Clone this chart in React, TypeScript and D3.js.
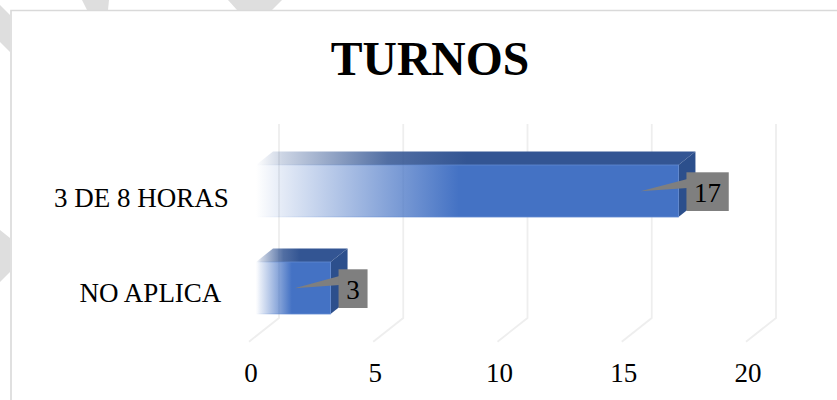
import React from "react";
import * as d3 from "d3";

const categories = ["3 DE 8 HORAS", "NO APLICA"];
const values = [17, 3];
const axisTicks = [0, 5, 10, 15, 20];
const chartTitle = "TURNOS";

const W = 837;
const H = 400;
const FONT = "'Liberation Serif', 'Times New Roman', serif";
const LABEL_SIZE = 27;

const x = d3.scaleLinear().domain([0, 20]).range([249, 746]);
const y = d3.scalePoint<string>().domain(categories).range([191, 288]);

// 3D projection of the plot box
const DX = 30;
const WALL_TOP = 124;
const WALL_BOTTOM = 318;
const FLOOR_FRONT = 341.7;
const BAR_INSET = 7;
const BAR_H = 52;
const BAR_DX = 17;
const BAR_DY = 13.5;

const categoryLabelCenter: Record<string, number> = { "3 DE 8 HORAS": 141.5, "NO APLICA": 150.5 };
const categoryLabelDy: Record<string, number> = { "3 DE 8 HORAS": 15.5, "NO APLICA": 14 };

const watermark = [
  "0,5 10,15 10,52 0,42",
  "0,230 10,238 10,272 0,282",
  "82,0 109,0 108,10 87,10",
  "228,0 282,0 272,10 237,10",
];

const pts = (a: [number, number][]) => a.map((p) => p.join(",")).join(" ");

function Stops({ color }: { color: string }) {
  return (
    <>
      <stop offset="0" stopColor={color} stopOpacity={0} />
      <stop offset="0.06" stopColor={color} stopOpacity={0.14} />
      <stop offset="0.48" stopColor={color} stopOpacity={1} />
      <stop offset="1" stopColor={color} stopOpacity={1} />
    </>
  );
}

export default function App() {
  return (
    <svg
      width={W}
      height={H}
      viewBox={`0 0 ${W} ${H}`}
      style={{ position: "absolute", left: 0, top: 0, display: "block", background: "#fff" }}
    >
      <defs>
        <linearGradient id="front"><Stops color="#4472c4" /></linearGradient>
        <linearGradient id="frontEdge"><Stops color="#5f88d0" /></linearGradient>
        <linearGradient id="top">
          <stop offset="0" stopColor="#335593" stopOpacity={0} />
          <stop offset="0.06" stopColor="#335593" stopOpacity={0.25} />
          <stop offset="0.3" stopColor="#335593" stopOpacity={0.85} />
          <stop offset="0.48" stopColor="#335593" stopOpacity={1} />
          <stop offset="1" stopColor="#335593" stopOpacity={1} />
        </linearGradient>
      </defs>

      {watermark.map((p, i) => (
        <polygon key={i} points={p} fill="#dedede" />
      ))}
      <path d="M11,400 V10.5 H837" fill="none" stroke="#d9d9d9" strokeWidth={1.6} />

      {axisTicks.map((t) => (
        <polyline
          key={t}
          points={pts([
            [x(t) + DX, WALL_TOP],
            [x(t) + DX, WALL_BOTTOM],
            [x(t), FLOOR_FRONT],
          ])}
          fill="none"
          stroke="#eeeeee"
          strokeWidth={1.8}
        />
      ))}

      {categories.map((c, i) => {
        const x0 = x(0) + BAR_INSET;
        const x1 = x(values[i]) + BAR_INSET;
        const yc = y(c) as number;
        const t = yc - BAR_H / 2;
        const b = yc + BAR_H / 2;
        return (
          <g key={c}>
            <polygon
              points={pts([
                [x0, t],
                [x0 + BAR_DX, t - BAR_DY],
                [x1 + BAR_DX, t - BAR_DY],
                [x1, t],
              ])}
              fill="url(#top)"
            />
            <polygon
              points={pts([
                [x1, t],
                [x1 + BAR_DX, t - BAR_DY],
                [x1 + BAR_DX, b - BAR_DY],
                [x1, b],
              ])}
              fill="#2c4f8c"
            />
            <rect x={x0} y={t} width={x1 - x0} height={BAR_H} fill="url(#front)" />
            <rect
              x={x0}
              y={t}
              width={x1 - x0}
              height={BAR_H}
              fill="none"
              stroke="url(#frontEdge)"
              strokeWidth={0.8}
            />
          </g>
        );
      })}

      {categories.map((c, i) => {
        const yc = y(c) as number;
        const right = x(values[i]) + BAR_INSET;
        const boxL = right + 8;
        const boxW = i === 0 ? 42.3 : 29;
        const boxT = yc - 18.7;
        const tipX = right - (i === 0 ? 38 : 36);
        return (
          <g key={c}>
            <polygon
              points={pts([
                [tipX, yc + 0.2],
                [boxL + 1, boxT + 6.8],
                [boxL + 1, boxT + 15.7],
              ])}
              fill="#7f7f7f"
            />
            <rect x={boxL} y={boxT} width={boxW} height={38.7} fill="#7f7f7f" />
            <text
              x={boxL + boxW / 2}
              y={yc + 10.6}
              textAnchor="middle"
              fontFamily={FONT}
              fontSize={LABEL_SIZE}
              fill="#000"
            >
              {values[i]}
            </text>
          </g>
        );
      })}

      {categories.map((c) => (
        <text
          key={c}
          x={categoryLabelCenter[c]}
          y={(y(c) as number) + categoryLabelDy[c]}
          textAnchor="middle"
          fontFamily={FONT}
          fontSize={LABEL_SIZE}
          fill="#000"
        >
          {c}
        </text>
      ))}

      {axisTicks.map((t) => (
        <text
          key={t}
          x={x(t) + 1.9}
          y={381.7}
          textAnchor="middle"
          fontFamily={FONT}
          fontSize={LABEL_SIZE}
          fill="#000"
        >
          {t}
        </text>
      ))}

      <text
        x={430}
        y={75}
        textAnchor="middle"
        fontFamily={FONT}
        fontWeight={700}
        fontSize={47.6}
        fill="#000"
      >
        {chartTitle}
      </text>
    </svg>
  );
}
